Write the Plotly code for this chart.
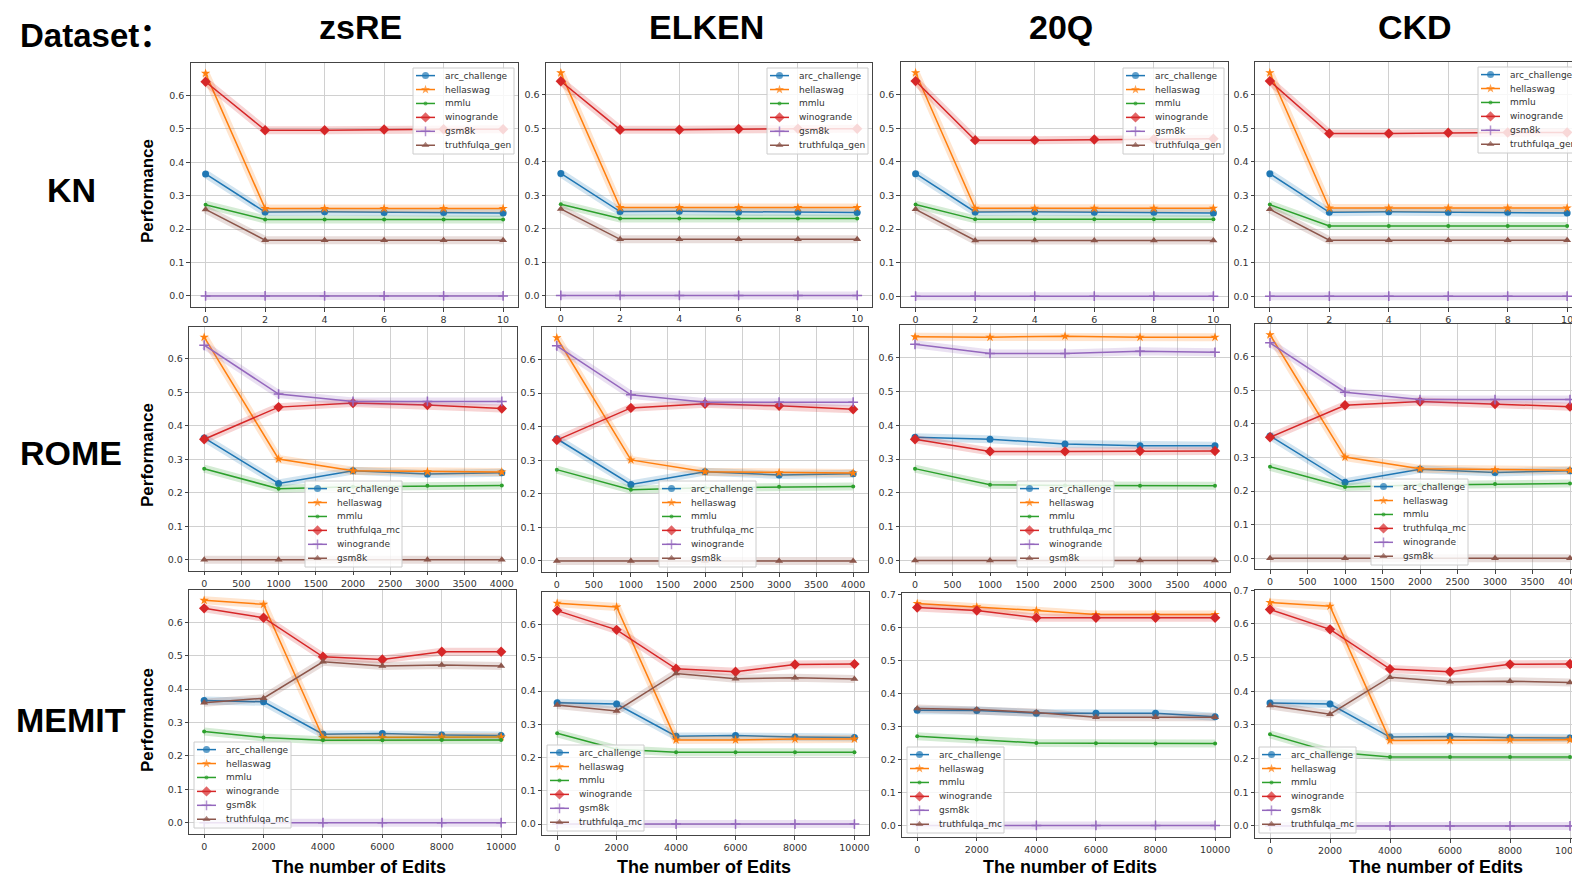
import plotly.graph_objects as go

W, H = 1572, 878

# ---------------- data ----------------
KN_X = [0, 2, 4, 6, 8, 10]
ROME_X = [0, 1000, 2000, 3000, 4000]
MEMIT_X = [0, 2000, 4000, 6000, 8000, 10000]

KN_TICKS = [0, 2, 4, 6, 8, 10]
ROME_TICKS = [0, 500, 1000, 1500, 2000, 2500, 3000, 3500, 4000]
MEMIT_TICKS = [0, 2000, 4000, 6000, 8000, 10000]
Y_TICKS = [0.0, 0.1, 0.2, 0.3, 0.4, 0.5, 0.6]
Y_TICKS_07 = [0.0, 0.1, 0.2, 0.3, 0.4, 0.5, 0.6, 0.7]

DATASETS = ["zsRE", "ELKEN", "20Q", "CKD"]
METHODS = ["KN", "ROME", "MEMIT"]

KN_NAMES = ["arc_challenge", "hellaswag", "mmlu", "winogrande", "gsm8k", "truthfulqa_gen"]
ROME_NAMES = ["arc_challenge", "hellaswag", "mmlu", "truthfulqa_mc", "winogrande", "gsm8k"]
MEMIT_NAMES = ["arc_challenge", "hellaswag", "mmlu", "winogrande", "gsm8k", "truthfulqa_mc"]

KN_ZSRE = [
    [0.365, 0.251, 0.252, 0.250, 0.250, 0.248],
    [0.666, 0.262, 0.262, 0.262, 0.262, 0.262],
    [0.273, 0.229, 0.229, 0.229, 0.229, 0.229],
    [0.641, 0.496, 0.496, 0.498, 0.499, 0.499],
    [0.0, 0.0, 0.0, 0.0, 0.0, 0.0],
    [0.259, 0.167, 0.167, 0.167, 0.167, 0.167],
]
KN_ELKEN = [
    [0.365, 0.251, 0.252, 0.250, 0.250, 0.248],
    [0.666, 0.263, 0.263, 0.263, 0.263, 0.263],
    [0.273, 0.230, 0.230, 0.230, 0.230, 0.230],
    [0.641, 0.496, 0.496, 0.498, 0.499, 0.499],
    [0.0, 0.0, 0.0, 0.0, 0.0, 0.0],
    [0.259, 0.168, 0.168, 0.168, 0.168, 0.168],
]
KN_20Q = [
    [0.365, 0.251, 0.252, 0.250, 0.250, 0.248],
    [0.666, 0.262, 0.262, 0.262, 0.262, 0.262],
    [0.273, 0.229, 0.229, 0.229, 0.229, 0.229],
    [0.641, 0.465, 0.465, 0.467, 0.468, 0.469],
    [0.0, 0.0, 0.0, 0.0, 0.0, 0.0],
    [0.259, 0.166, 0.166, 0.166, 0.166, 0.166],
]
KN_CKD = [
    [0.365, 0.250, 0.252, 0.250, 0.250, 0.248],
    [0.666, 0.263, 0.263, 0.263, 0.263, 0.263],
    [0.273, 0.209, 0.209, 0.209, 0.209, 0.209],
    [0.641, 0.485, 0.485, 0.487, 0.488, 0.488],
    [0.0, 0.0, 0.0, 0.0, 0.0, 0.0],
    [0.259, 0.167, 0.167, 0.167, 0.167, 0.167],
]

ROME_ZSRE = [
    [0.364, 0.228, 0.266, 0.256, 0.260],
    [0.665, 0.301, 0.266, 0.263, 0.262],
    [0.272, 0.212, 0.218, 0.221, 0.222],
    [0.360, 0.456, 0.468, 0.462, 0.452],
    [0.641, 0.495, 0.473, 0.473, 0.473],
    [0.0, 0.0, 0.0, 0.0, 0.0],
]
ROME_ELKEN = [
    [0.364, 0.228, 0.266, 0.256, 0.260],
    [0.665, 0.301, 0.266, 0.263, 0.262],
    [0.272, 0.212, 0.218, 0.221, 0.222],
    [0.360, 0.456, 0.468, 0.462, 0.452],
    [0.641, 0.495, 0.473, 0.473, 0.473],
    [0.0, 0.0, 0.0, 0.0, 0.0],
]
ROME_20Q = [
    [0.365, 0.359, 0.345, 0.340, 0.340],
    [0.662, 0.661, 0.664, 0.661, 0.661],
    [0.272, 0.224, 0.222, 0.221, 0.221],
    [0.359, 0.323, 0.323, 0.324, 0.324],
    [0.640, 0.613, 0.613, 0.619, 0.616],
    [0.0, 0.0, 0.0, 0.0, 0.0],
]
ROME_CKD = [
    [0.364, 0.226, 0.265, 0.255, 0.260],
    [0.665, 0.301, 0.266, 0.263, 0.262],
    [0.272, 0.212, 0.218, 0.221, 0.222],
    [0.360, 0.455, 0.466, 0.459, 0.451],
    [0.641, 0.494, 0.472, 0.472, 0.472],
    [0.0, 0.0, 0.0, 0.0, 0.0],
]

MEMIT_ZSRE = [
    [0.366, 0.362, 0.265, 0.267, 0.263, 0.261],
    [0.666, 0.654, 0.255, 0.255, 0.257, 0.257],
    [0.273, 0.255, 0.247, 0.247, 0.248, 0.248],
    [0.642, 0.614, 0.497, 0.489, 0.512, 0.512],
    [0.0, 0.0, 0.0, 0.0, 0.0, 0.0],
    [0.359, 0.373, 0.482, 0.469, 0.472, 0.469],
]
MEMIT_ELKEN = [
    [0.365, 0.361, 0.264, 0.266, 0.262, 0.260],
    [0.664, 0.653, 0.253, 0.253, 0.256, 0.256],
    [0.273, 0.225, 0.216, 0.216, 0.216, 0.216],
    [0.642, 0.584, 0.467, 0.458, 0.480, 0.481],
    [0.0, 0.0, 0.0, 0.0, 0.0, 0.0],
    [0.358, 0.340, 0.453, 0.437, 0.440, 0.436],
]
MEMIT_20Q = [
    [0.349, 0.348, 0.340, 0.340, 0.340, 0.329],
    [0.672, 0.662, 0.651, 0.639, 0.639, 0.639],
    [0.270, 0.260, 0.250, 0.249, 0.248, 0.248],
    [0.660, 0.651, 0.629, 0.629, 0.629, 0.629],
    [0.0, 0.0, 0.0, 0.0, 0.0, 0.0],
    [0.354, 0.351, 0.342, 0.328, 0.328, 0.328],
]
MEMIT_CKD = [
    [0.365, 0.362, 0.264, 0.266, 0.262, 0.261],
    [0.664, 0.653, 0.254, 0.254, 0.256, 0.256],
    [0.272, 0.220, 0.205, 0.205, 0.205, 0.205],
    [0.643, 0.584, 0.466, 0.458, 0.480, 0.481],
    [0.0, 0.0, 0.0, 0.0, 0.0, 0.0],
    [0.358, 0.332, 0.442, 0.428, 0.430, 0.426],
]

VALUES = {
    ("KN", "zsRE"): KN_ZSRE, ("KN", "ELKEN"): KN_ELKEN, ("KN", "20Q"): KN_20Q, ("KN", "CKD"): KN_CKD,
    ("ROME", "zsRE"): ROME_ZSRE, ("ROME", "ELKEN"): ROME_ELKEN, ("ROME", "20Q"): ROME_20Q, ("ROME", "CKD"): ROME_CKD,
    ("MEMIT", "zsRE"): MEMIT_ZSRE, ("MEMIT", "ELKEN"): MEMIT_ELKEN, ("MEMIT", "20Q"): MEMIT_20Q, ("MEMIT", "CKD"): MEMIT_CKD,
}
XS = {"KN": KN_X, "ROME": ROME_X, "MEMIT": MEMIT_X}
NAMES = {"KN": KN_NAMES, "ROME": ROME_NAMES, "MEMIT": MEMIT_NAMES}
XTICKS = {"KN": KN_TICKS, "ROME": ROME_TICKS, "MEMIT": MEMIT_TICKS}

# ---------------- styles / layout ----------------
COLORS = ["#1f77b4", "#ff7f0e", "#2ca02c", "#d62728", "#9467bd", "#8c564b"]
GLOWS = ["rgba(31,119,180,0.2)", "rgba(255,127,14,0.2)", "rgba(44,160,44,0.2)",
         "rgba(214,39,40,0.2)", "rgba(148,103,189,0.2)", "rgba(140,86,75,0.2)"]
SYMBOLS = ["circle", "star", "circle", "diamond", "cross-thin", "triangle-up"]
SIZES = [7, 7, 4, 8, 7, 7]

# frame pixel boxes: left, right, top, bottom
FRAME = {
    ("KN", "zsRE"): (190.7, 518, 63, 307),
    ("ROME", "zsRE"): (189.3, 516.7, 326.5, 570.7),
    ("MEMIT", "zsRE"): (189.3, 516, 590, 833.7),
    ("KN", "ELKEN"): (546, 872, 62.5, 306.5),
    ("ROME", "ELKEN"): (542, 868, 327, 572),
    ("MEMIT", "ELKEN"): (542.3, 869.3, 592.3, 835),
    ("KN", "20Q"): (900.7, 1228.3, 62.3, 307.3),
    ("ROME", "20Q"): (900, 1230, 325, 571.7),
    ("MEMIT", "20Q"): (902.3, 1230, 593.3, 836.7),
    ("KN", "CKD"): (1255, 1582, 62.3, 307.3),
    ("ROME", "CKD"): (1255, 1585, 324, 569.3),
    ("MEMIT", "CKD"): (1255, 1585, 590, 838),
}
XRANGE = {"KN": (-0.5, 10.5), "ROME": (-200, 4200), "MEMIT": (-500, 10500)}
YRANGE_DEFAULT = (-0.033, 0.697)
YRANGE = {("MEMIT", "20Q"): (-0.034, 0.703), ("MEMIT", "CKD"): (-0.036, 0.701)}

# legend boxes: left, top, width
LEG = {
    ("KN", "zsRE"): (413, 68, 101), ("KN", "ELKEN"): (767, 68, 101),
    ("KN", "20Q"): (1123, 68, 101), ("KN", "CKD"): (1478, 67, 101),
    ("ROME", "zsRE"): (305, 481, 97), ("ROME", "ELKEN"): (659, 481, 97),
    ("ROME", "20Q"): (1017, 481, 97), ("ROME", "CKD"): (1371, 479, 97),
    ("MEMIT", "zsRE"): (194, 742, 97), ("MEMIT", "ELKEN"): (547, 745, 97),
    ("MEMIT", "20Q"): (907, 747, 97), ("MEMIT", "CKD"): (1259, 747, 97),
}
LEG_H = 86
LEG_ROW0 = 7.6
LEG_STEP = 13.93

TICK_FONT = dict(family="DejaVu Sans", size=9.5, color="#333333")
LEG_FONT = dict(family="DejaVu Sans", size=9, color="#333333")
BOLD = "Liberation Sans, Arial, Noto Sans CJK SC"

fig = go.Figure()
layout = dict(
    width=W, height=H, margin=dict(l=0, r=0, t=0, b=0, autoexpand=False),
    paper_bgcolor="white", plot_bgcolor="rgba(0,0,0,0)", showlegend=False,
)
annotations = []

n = 0
for ds in DATASETS:
    for m in METHODS:
        n += 1
        key = (m, ds)
        sfx = "" if n == 1 else str(n)
        left, right, top, bottom = FRAME[key]
        x0, x1 = XRANGE[m]
        cut = right > W
        if cut:
            x1 = x0 + (W - left) / (right - left) * (x1 - x0)
            right = W
        yr = YRANGE.get(key, YRANGE_DEFAULT)
        yt = Y_TICKS_07 if yr[1] > 0.7 else Y_TICKS
        layout["xaxis" + sfx] = dict(
            domain=[left / W, right / W], anchor="y" + sfx, range=[x0, x1],
            tickvals=XTICKS[m], ticktext=[str(t) for t in XTICKS[m]],
            showgrid=True, gridcolor="#d0d0d0", gridwidth=1, zeroline=False,
            showline=True, linecolor="#444444", linewidth=1, mirror=True,
            ticks="outside", ticklen=3.5, tickcolor="#444444", tickfont=TICK_FONT,
            ticklabeloverflow="allow", fixedrange=True,
        )
        layout["yaxis" + sfx] = dict(
            domain=[1 - bottom / H, 1 - top / H], anchor="x" + sfx, range=list(yr),
            tickvals=yt, ticktext=["%.1f" % v for v in yt],
            showgrid=True, gridcolor="#d0d0d0", gridwidth=1, zeroline=False,
            showline=True, linecolor="#444444", linewidth=1, mirror=(not cut),
            ticks="outside", ticklen=3.5, tickcolor="#444444", tickfont=TICK_FONT,
            ticklabeloverflow="allow", fixedrange=True,
        )
        xs = XS[m]
        for j, ys in enumerate(VALUES[key]):
            fig.add_trace(go.Scatter(
                x=xs, y=ys, xaxis="x" + sfx, yaxis="y" + sfx, mode="lines",
                line=dict(color=GLOWS[j], width=8), hoverinfo="skip"))
            fig.add_trace(go.Scatter(
                x=xs, y=ys, xaxis="x" + sfx, yaxis="y" + sfx, mode="lines+markers",
                name=NAMES[m][j], line=dict(color=COLORS[j], width=1.5),
                marker=dict(symbol=SYMBOLS[j], size=SIZES[j], color=COLORS[j],
                            line=dict(color=COLORS[j], width=1.5 if SYMBOLS[j] == "cross-thin" else 0)),
                cliponaxis=cut))

# ---------- overlay axis for legend boxes (pixel coordinates) ----------
OV = "13"
layout["xaxis" + OV] = dict(domain=[0, 1], range=[0, W], visible=False, anchor="y" + OV, fixedrange=True)
layout["yaxis" + OV] = dict(domain=[0, 1], range=[H, 0], visible=False, anchor="x" + OV, fixedrange=True)

for ds in DATASETS:
    for m in METHODS:
        L, T, LW = LEG[(m, ds)]
        R, B = L + LW, T + LEG_H
        fig.add_trace(go.Scatter(
            x=[L, R, R, L, L], y=[T, T, B, B, T], xaxis="x" + OV, yaxis="y" + OV,
            mode="lines", fill="toself", fillcolor="rgba(255,255,255,0.82)",
            line=dict(color="#cccccc", width=1), hoverinfo="skip"))
        for j, name in enumerate(NAMES[m]):
            yy = T + LEG_ROW0 + j * LEG_STEP
            fig.add_trace(go.Scatter(
                x=[L + 3, L + 12.5, L + 22], y=[yy, yy, yy], xaxis="x" + OV, yaxis="y" + OV,
                mode="lines+markers", line=dict(color=COLORS[j], width=1.5),
                marker=dict(symbol=SYMBOLS[j], size=[0, SIZES[j], 0], color=COLORS[j],
                            line=dict(color=COLORS[j], width=1.5 if SYMBOLS[j] == "cross-thin" else 0)),
                hoverinfo="skip"))
            annotations.append(dict(
                text=name, xref="paper", yref="paper", x=(L + 29.5) / W, y=1 - yy / H,
                xanchor="left", yanchor="middle", showarrow=False, font=LEG_FONT))

# ---------- header / row / axis titles ----------
COL_TITLE_X = [360, 706, 1061, 1415]
EDITS_X = [359, 704, 1070, 1436]
ROW_Y = [190, 453, 720]
PERF_Y = [191, 455, 720]

annotations.append(dict(text="<b>Dataset：</b>", xref="paper", yref="paper", x=18 / W, y=1 - 35 / H,
                        xanchor="left", yanchor="middle", showarrow=False,
                        font=dict(family=BOLD, size=33, color="black")))
for ds, cx in zip(DATASETS, COL_TITLE_X):
    annotations.append(dict(text="<b>%s</b>" % ds, xref="paper", yref="paper", x=cx / W,
                            y=1 - 27 / H, xanchor="center", yanchor="middle", showarrow=False,
                            font=dict(family=BOLD, size=34, color="black")))
for cx in EDITS_X:
    annotations.append(dict(text="<b>The number of Edits</b>", xref="paper", yref="paper", x=cx / W,
                            y=1 - 867 / H, xanchor="center", yanchor="middle", showarrow=False,
                            font=dict(family=BOLD, size=18, color="black")))
for m, ry, py in zip(METHODS, ROW_Y, PERF_Y):
    annotations.append(dict(text="<b>%s</b>" % m, xref="paper", yref="paper", x=71 / W,
                            y=1 - ry / H, xanchor="center", yanchor="middle", showarrow=False,
                            font=dict(family=BOLD, size=34, color="black")))
    annotations.append(dict(text="<b>Performance</b>", xref="paper", yref="paper", x=147 / W,
                            y=1 - py / H, xanchor="center", yanchor="middle", showarrow=False,
                            textangle=-90, font=dict(family=BOLD, size=17, color="black")))

layout["annotations"] = annotations
fig.update_layout(**layout)
# remove the browser's default 8px body margin so the figure sits at the window origin
fig.write_html("out.html", config={"displayModeBar": False},
               post_script="document.body.style.margin='0px';")
